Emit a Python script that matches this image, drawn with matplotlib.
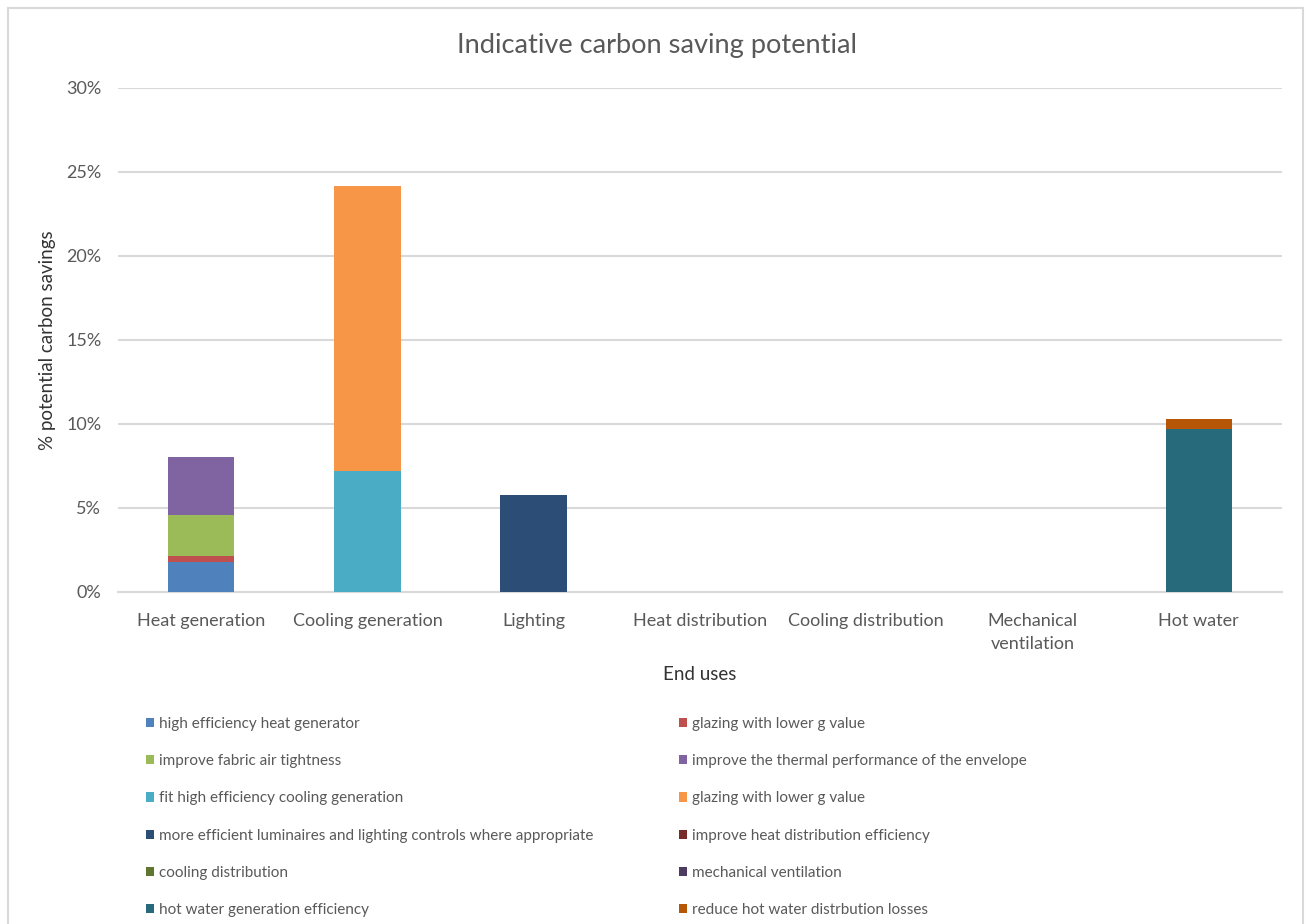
import matplotlib
matplotlib.use("Agg")
import matplotlib.pyplot as plt
from matplotlib.patches import Rectangle, Patch
import numpy as np

plt.rcParams['font.family'] = ['Lato', 'DejaVu Sans']

categories = ["Heat generation", "Cooling generation", "Lighting", "Heat distribution",
              "Cooling distribution", "Mechanical\nventilation", "Hot water"]

series_names = [
    "high efficiency heat generator",
    "glazing with lower g value",
    "improve fabric air tightness",
    "improve the thermal performance of the envelope",
    "fit high efficiency cooling generation",
    "glazing with lower g value",
    "more efficient luminaires and lighting controls where appropriate",
    "improve heat distribution efficiency",
    "cooling distribution",
    "mechanical ventilation",
    "hot water generation efficiency",
    "reduce hot water distrbution losses",
]

# values in % for each series across the 7 categories
high_eff_heat_gen   = [1.80, 0, 0, 0, 0, 0, 0]
glazing_heat        = [0.34, 0, 0, 0, 0, 0, 0]
fabric_air          = [2.45, 0, 0, 0, 0, 0, 0]
envelope            = [3.43, 0, 0, 0, 0, 0, 0]
high_eff_cooling    = [0, 7.20, 0, 0, 0, 0, 0]
glazing_cooling     = [0, 16.97, 0, 0, 0, 0, 0]
luminaires          = [0, 0, 5.77, 0, 0, 0, 0]
heat_distribution   = [0, 0, 0, 0, 0, 0, 0]
cooling_distrib     = [0, 0, 0, 0, 0, 0, 0]
mech_ventilation    = [0, 0, 0, 0, 0, 0, 0]
hot_water_gen       = [0, 0, 0, 0, 0, 0, 9.68]
hot_water_losses    = [0, 0, 0, 0, 0, 0, 0.62]

series_values = [high_eff_heat_gen, glazing_heat, fabric_air, envelope,
                 high_eff_cooling, glazing_cooling, luminaires, heat_distribution,
                 cooling_distrib, mech_ventilation, hot_water_gen, hot_water_losses]

colors = ["#4F81BD", "#C0504D", "#9BBB59", "#8064A2", "#4BACC6", "#F79646",
          "#2C4D75", "#772C2A", "#5F7530", "#4D3B62", "#276A7C", "#B65708"]

yticks = [0, 5, 10, 15, 20, 25, 30]

W, H = 1306, 924
fig = plt.figure(figsize=(W / 100, H / 100), dpi=100)
ax = fig.add_axes([118 / W, 1 - 592 / H, (1282 - 118) / W, (592 - 88) / H])

x = np.arange(len(categories))
bottom = np.zeros(len(categories))
for vals, col in zip(series_values, colors):
    v = np.array(vals, dtype=float)
    ax.bar(x, v, bottom=bottom, width=0.4, color=col, zorder=3)
    bottom += v

ax.set_xlim(-0.5, len(categories) - 0.5)
ax.set_ylim(0, 30)
ax.set_yticks(yticks)
ax.set_yticklabels([f"{t}%" for t in yticks])
ax.set_xticks(x)
ax.set_xticklabels(categories, linespacing=1.55)
ax.tick_params(axis='both', length=0, labelsize=13, colors='#595959')
ax.tick_params(axis='y', pad=12)
ax.tick_params(axis='x', pad=15)
ax.grid(axis='y', color='#D9D9D9', linewidth=1.5, zorder=0)
for s in ['top', 'right', 'left']:
    ax.spines[s].set_visible(False)
ax.spines['bottom'].set_color('#D9D9D9')
ax.spines['bottom'].set_linewidth(1.5)

fig.text(657 / W, 1 - 45 / H, "Indicative carbon saving potential", ha='center', va='center',
         fontsize=19.6, color='#595959')
fig.text(700 / W, 1 - 674 / H, "End uses", ha='center', va='center', fontsize=13.5, color='#333333')
fig.text(48 / W, 1 - 340 / H, "% potential carbon savings", ha='center', va='center',
         rotation=90, fontsize=13.5, color='#333333')

handles = [Patch(facecolor=c, edgecolor='none') for c in colors]
left_idx = [0, 2, 4, 6, 8, 10]
right_idx = [1, 3, 5, 7, 9, 11]
common = dict(frameon=False, fontsize=11, handlelength=0.55, handleheight=0.55,
              handletextpad=0.3, labelspacing=1.52, borderpad=0, borderaxespad=0,
              labelcolor='#595959', loc='upper left')
fig.legend([handles[i] for i in left_idx], [series_names[i] for i in left_idx],
           bbox_to_anchor=(146 / W, 1 - 717 / H), **common)
fig.legend([handles[i] for i in right_idx], [series_names[i] for i in right_idx],
           bbox_to_anchor=(679 / W, 1 - 717 / H), **common)

fig.patches.append(Rectangle((8 / W, -0.05), (1303 - 8) / W, 1.05 - 8 / H, transform=fig.transFigure,
                             fill=False, edgecolor='#D9D9D9', linewidth=1.5))

fig.savefig("out.png", dpi=100, facecolor='white')
